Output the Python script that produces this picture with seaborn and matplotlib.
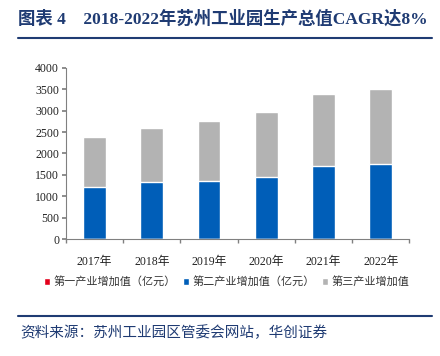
import matplotlib
matplotlib.use("Agg")
import matplotlib.pyplot as plt
import seaborn as sns
import pandas as pd
import numpy as np

years = ["2017年", "2018年", "2019年", "2020年", "2021年", "2022年"]
primary = [2, 2, 2, 2, 2, 2]
secondary = [1217, 1326, 1364, 1450, 1706, 1752]
tertiary = [1160, 1274, 1386, 1516, 1687, 1757]
series_names = ["第一产业增加值（亿元）", "第二产业增加值（亿元）", "第三产业增加值"]
title = "图表 4    2018-2022年苏州工业园生产总值CAGR达8%"
source = "资料来源：苏州工业园区管委会网站，华创证券"

sns.set_theme(style="white")
plt.rcParams['font.family'] = ['Liberation Serif', 'Noto Sans CJK SC', 'DejaVu Sans']

c_red, c_blue, c_gray = "#E3001B", "#005EB8", "#B3B3B3"
navy = "#1F3B73"

df = pd.DataFrame({"year": years, "p": primary, "s": secondary, "t": tertiary})
df["ps"] = df["p"] + df["s"]
df["total"] = df["ps"] + df["t"]

fig = plt.figure(figsize=(4.4, 3.56), dpi=100)
ax = fig.add_axes([66/440, 1-239.3/356, (409.3-66)/440, (239.3-67.7)/356])

sns.barplot(data=df, x="year", y="total", color=c_gray, width=0.4, ax=ax, saturation=1, label=series_names[2])
sns.barplot(data=df, x="year", y="ps", color=c_blue, width=0.4, ax=ax, saturation=1, label=series_names[1])
sns.barplot(data=df, x="year", y="p", color=c_red, width=0.4, ax=ax, saturation=1, label=series_names[0])

handles, labels = ax.get_legend_handles_labels()
if ax.get_legend() is not None:
    ax.get_legend().remove()

ax.set_ylim(0, 4000)
ax.set_xlim(-0.5, 5.5)
ax.set_yticks(np.arange(0, 4001, 500))
ax.set_xlabel("")
ax.set_ylabel("")
for s in ["top", "right"]:
    ax.spines[s].set_visible(False)
for s in ["left", "bottom"]:
    ax.spines[s].set_color("#808080")
    ax.spines[s].set_linewidth(0.8)
ax.tick_params(axis="y", which="major", left=True, length=3, color="#808080", labelsize=8.5, pad=2, labelcolor="#222222")
ax.tick_params(axis="x", which="major", bottom=False, labelsize=8.5, pad=6, labelcolor="#222222")
ax.set_xticks(np.arange(-0.5, 6, 1), minor=True)
ax.tick_params(axis="x", which="minor", bottom=True, length=3, color="#808080")

order = [series_names.index(l) for l in labels]
hl = sorted(zip(order, handles, labels))
leg = fig.legend([h for _, h, _ in hl], [l for _, _, l in hl], loc="center", bbox_to_anchor=(0.515, 1-281.7/356),
                 ncol=3, frameon=False, handlelength=0.6, handleheight=0.6,
                 handletextpad=0.3, columnspacing=0.6, prop={'family': ['Noto Sans CJK SC'], 'size': 8})
for t in leg.get_texts():
    t.set_color("#333333")

fig.text(18/440, 1-19/356, title, fontsize=12.5, fontweight="bold", color=navy, va="center", ha="left",
         family=['Liberation Serif', 'Noto Sans CJK SC'])
fig.add_artist(plt.Line2D([18/440, 432/440], [1-37.5/356, 1-37.5/356], color=navy, lw=1.5))
fig.add_artist(plt.Line2D([18/440, 432/440], [1-316/356, 1-316/356], color=navy, lw=1.5))
fig.text(20/440, 1-333/356, source, fontsize=10.5, style="italic", color=navy, va="center", ha="left",
         family=['Noto Sans CJK SC'])

fig.savefig("out.png", dpi=100)
